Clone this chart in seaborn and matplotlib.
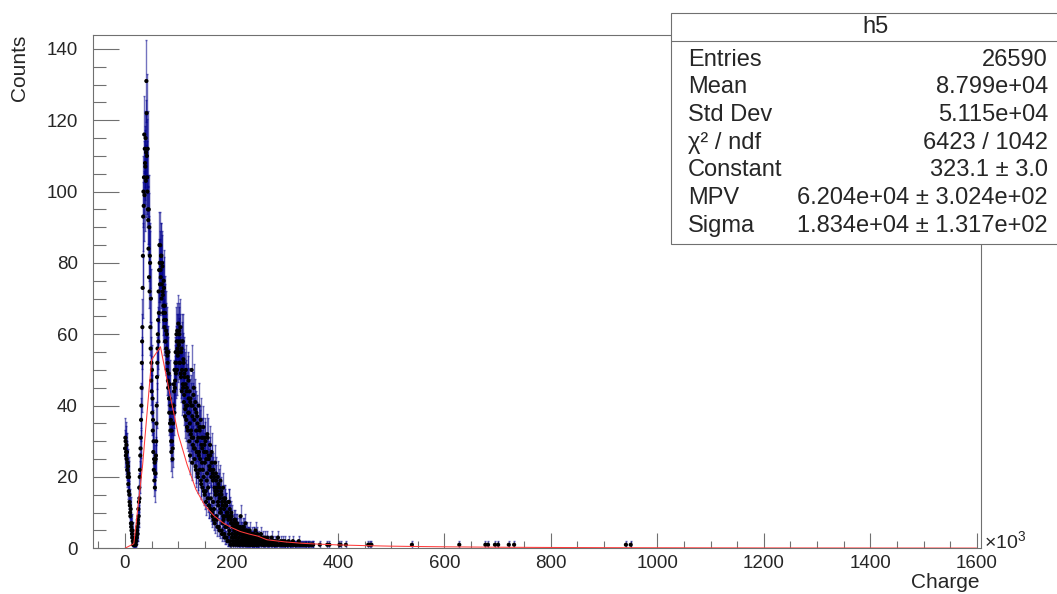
import numpy as np
import pandas as pd
import matplotlib
matplotlib.use("Agg")
import matplotlib.pyplot as plt
import seaborn as sns
from matplotlib.patches import Rectangle
from matplotlib.ticker import MultipleLocator

# bin contents, 0.5k wide bins from charge 0 to 250 (units of 10^3)
counts_fine = [
    28, 31, 30, 26, 27, 29, 25, 27, 22, 24, 20, 23, 18, 21, 16, 20, 15, 13, 12, 10,
    9, 11, 7, 6, 5, 7, 4, 3, 5, 2, 1, 2, 0, 1, 2, 1, 0, 2, 1, 1,
    1, 3, 2, 4, 3, 5, 6, 4, 8, 7, 11, 9, 13, 17, 14, 20, 22, 26, 28, 31,
    36, 40, 45, 52, 58, 62, 73, 82, 93, 100, 96, 104, 116, 99, 112, 108, 107, 115, 103, 111,
    131, 122, 110, 104, 100, 112, 95, 92, 84, 95, 76, 90, 72, 82, 80, 62, 56, 70, 47, 52,
    44, 50, 38, 42, 33, 36, 27, 30, 22, 25, 19, 24, 17, 21, 21, 25, 26, 30, 35, 40,
    48, 52, 56, 60, 64, 58, 72, 66, 78, 85, 80, 74, 85, 78, 76, 82, 82, 70, 74, 80,
    79, 72, 71, 66, 68, 75, 73, 64, 62, 68, 66, 58, 58, 64, 61, 56, 55, 60, 50, 54,
    52, 47, 45, 55, 49, 42, 38, 46, 42, 35, 33, 40, 36, 30, 27, 33, 30, 38, 25, 28,
    35, 40, 40, 46, 44, 38, 50, 45, 47, 52, 55, 49, 52, 60, 58, 50, 61, 56, 54, 58,
    63, 55, 57, 61, 60, 52, 52, 58, 62, 49, 48, 55, 56, 44, 50, 58, 58, 46, 45, 53,
    52, 41, 43, 49, 48, 37, 39, 46, 50, 40, 36, 44, 45, 34, 40, 48, 33, 38, 47, 42,
    38, 30, 44, 35, 26, 41, 42, 32, 33, 40, 50, 31, 24, 37, 40, 29, 31, 43, 45, 28,
    36, 25, 28, 39, 41, 23, 22, 33, 38, 27, 30, 37, 35, 21, 20, 31, 40, 26, 27, 34,
    33, 22, 25, 34, 36, 19, 18, 29, 31, 24, 28, 17, 22, 31, 34, 20, 16, 27, 29, 15,
    24, 31, 30, 16, 13, 25, 27, 19, 21, 32, 31, 14, 17, 26, 25, 12, 12, 23, 22, 29,
    26, 11, 14, 22, 20, 27, 24, 10, 9, 21, 19, 13, 22, 8, 11, 20, 17, 7, 24, 16,
    15, 21, 19, 9, 8, 17, 16, 6, 20, 13, 12, 18, 6, 15, 17, 5, 14, 10, 19, 11,
    10, 16, 15, 5, 4, 13, 12, 7, 17, 9, 8, 14, 11, 4, 3, 13, 14, 6, 9, 12,
    12, 3, 6, 10, 10, 2, 2, 9, 8, 13, 13, 4, 5, 11, 9, 2, 1, 8, 7, 10,
    9, 3, 4, 7, 6, 1, 2, 6, 7, 3, 5, 8, 1, 4, 8, 2, 3, 7, 6, 1,
    4, 7, 6, 2, 2, 5, 5, 1, 3, 6, 1, 4, 6, 2, 9, 4, 2, 5, 4, 1,
    5, 2, 3, 6, 1, 4, 6, 2, 2, 5, 4, 1, 7, 3, 1, 5, 3, 2, 5, 1,
    2, 4, 4, 1, 3, 2, 1, 4, 5, 2, 2, 1, 0, 3, 3, 1, 4, 2, 1, 3,
    3, 1, 2, 4, 4, 1, 1, 3, 2, 2, 5, 1, 1, 3, 3, 1, 2, 4, 1, 2,
]

# 1k wide bins from 250 to 355
counts_far = [
    2, 1, 3, 2, 0, 4, 1, 2, 3, 1,
    1, 2, 3, 1, 2, 0, 1, 3, 2, 1,
    2, 1, 0, 2, 1, 3, 1, 0, 2, 1,
    1, 2, 1, 0, 1, 2, 1, 3, 1, 0,
    1, 0, 2, 1, 1, 0, 2, 1, 0, 1,
    2, 1, 0, 1, 1, 0, 1, 2, 0, 1,
    1, 0, 1, 1, 0, 2, 1, 0, 1, 1,
    0, 1, 1, 0, 1, 0, 2, 1, 0, 1,
    1, 0, 1, 0, 1, 1, 0, 1, 0, 1,
    1, 0, 0, 1, 1, 0, 1, 0, 1, 0,
    1, 0, 1, 1, 0,
]

# isolated single entries further out in the tail
tail_charge = [366, 380, 384, 403, 405, 415, 457, 460, 463, 539,
               628, 677, 682, 695, 701, 721, 731, 941, 950]
tail_counts = [1, 1, 1, 1, 1, 1, 1, 1, 1, 1,
               1, 1, 1, 1, 1, 1, 1, 1, 1]

# landau fit curve as drawn (polyline)
fit_charge = [0, 16.7, 33.3, 50, 66.7, 83.3, 100, 116.7, 133.3, 150,
              166.7, 183.3, 200, 216.7, 233.3, 250, 266.7, 283.3, 300, 333,
              367, 400, 450, 500, 550, 600, 700, 800, 900, 1000,
              1200, 1400, 1600]
fit_counts = [0.0, 1.3, 23.5, 52.8, 56.5, 44, 32, 23.5, 16.5, 12,
              9.2, 7.2, 5.8, 4.7, 4.0, 3.4, 2.4, 2.1, 1.8, 1.4,
              1.15, 0.95, 0.75, 0.6, 0.5, 0.42, 0.3, 0.23, 0.18, 0.15,
              0.1, 0.08, 0.06]

stat_names = ["Entries", "Mean", "Std Dev", "\u03c7\u00b2 / ndf", "Constant", "MPV", "Sigma"]
stat_values = ["26590", "8.799e+04", "5.115e+04", "6423 / 1042",
               "323.1 \u00b1 3.0", "6.204e+04 \u00b1 3.024e+02", "1.834e+04 \u00b1 1.317e+02"]

df = pd.concat([
    pd.DataFrame({"charge": np.arange(len(counts_fine)) * 0.5 + 0.25, "counts": counts_fine}),
    pd.DataFrame({"charge": 250 + np.arange(len(counts_far)) + 0.5, "counts": counts_far}),
    pd.DataFrame({"charge": tail_charge, "counts": tail_counts}),
])
df = df[df["counts"] > 0]
df["err"] = np.sqrt(df["counts"])

fit = pd.DataFrame({"charge": fit_charge, "counts": fit_counts})

sns.set_style("ticks")
plt.rcParams["font.family"] = ["Liberation Sans", "DejaVu Sans"]
plt.rcParams["mathtext.fontset"] = "custom"
plt.rcParams["mathtext.rm"] = "Liberation Sans"

W, H = 1057, 594
fig = plt.figure(figsize=(W / 100, H / 100), dpi=100)
ax = fig.add_axes([93 / W, 1 - 548.3 / H, (981 - 93) / W, (548.3 - 35) / H])

ax.errorbar(df["charge"], df["counts"], yerr=df["err"], fmt="none",
            ecolor=(0.0, 0.0, 0.55), alpha=0.55, elinewidth=1.0,
            capsize=1.0, capthick=1.0, zorder=2)
sns.scatterplot(data=df, x="charge", y="counts", color="black", s=9,
                edgecolor="none", ax=ax, zorder=3)
sns.lineplot(data=fit, x="charge", y="counts", color="#ff3a3a", lw=0.75,
             sort=False, estimator=None, ax=ax, zorder=4)

ax.set_xlim(-60, 1608)
ax.set_ylim(0, 143.9)
ax.set_xlabel("")
ax.set_ylabel("")

gray = "#707070"
for s in ax.spines.values():
    s.set_color(gray)
    s.set_linewidth(0.8)

ax.xaxis.set_major_locator(MultipleLocator(200))
ax.xaxis.set_minor_locator(MultipleLocator(50))
ax.yaxis.set_major_locator(MultipleLocator(20))
ax.yaxis.set_minor_locator(MultipleLocator(5))
ax.tick_params(axis="x", which="major", direction="in", length=10.8, width=0.8,
               color=gray, pad=5, labelsize=13.5)
ax.tick_params(axis="x", which="minor", direction="in", length=5.2, width=0.8, color=gray)
ax.tick_params(axis="y", which="major", direction="in", length=18.7, width=0.8,
               color=gray, pad=11, labelsize=13.5)
ax.tick_params(axis="y", which="minor", direction="in", length=9.4, width=0.8, color=gray)

fig.text(20 / W, 1 - 35 / H, "Counts", rotation=90, ha="center", va="top", fontsize=15)
fig.text(980 / W, 1 - 583 / H, "Charge", ha="right", va="center", fontsize=15)
fig.text(984 / W, 1 - 542 / H, "\u00d710$^{3}$", ha="left", va="center", fontsize=14)

# stats box
fig.patches.append(Rectangle((671 / W, 1 - 244 / H), (1085 - 671) / W, (244 - 12.7) / H,
                             transform=fig.transFigure, facecolor="white",
                             edgecolor=gray, lw=0.8, zorder=5))
fig.lines.append(plt.Line2D([671 / W, 1], [1 - 41 / H, 1 - 41 / H],
                            transform=fig.transFigure, color=gray, lw=0.8, zorder=6))
fig.text(876 / W, 1 - 33.3 / H, "h5", ha="center", va="baseline", fontsize=17, zorder=7)
for i, (name, val) in enumerate(zip(stat_names, stat_values)):
    yb = 1 - (65.7 + 27.7 * i) / H
    fig.text(688 / W, yb, name, ha="left", va="baseline", fontsize=17, zorder=7)
    fig.text(1048 / W, yb, val, ha="right", va="baseline", fontsize=17, zorder=7)

fig.savefig("out.png", dpi=100)
